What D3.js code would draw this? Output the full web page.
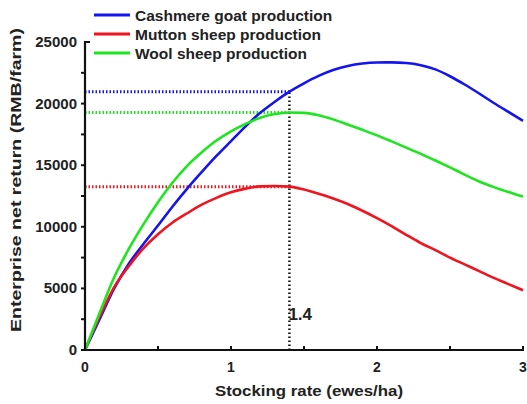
<!DOCTYPE html>
<html>
<head>
<meta charset="utf-8">
<script src="https://cdn.jsdelivr.net/npm/d3@7"></script>
<style>
  body { margin: 0; background: #fff; }
  text { font-family: "Liberation Sans", Arial, sans-serif; font-weight: bold; fill: #222; }
</style>
</head>
<body>
<div id="chart"></div>
<script>
// stocking rate (ewes/ha)
var rates = [0, 0.1, 0.2, 0.3, 0.4, 0.5, 0.6, 0.7, 0.8, 0.9, 1.0, 1.1, 1.2, 1.3, 1.4, 1.5,
  1.6, 1.7, 1.8, 1.9, 2.0, 2.1, 2.2, 2.3, 2.4, 2.5, 2.6, 2.7, 2.8, 2.9, 3.0];

// enterprise net return (RMB/farm)
var cashmere = [0, 2500, 5000, 7000, 8600, 10100, 11650, 13100, 14450, 15750, 16950, 18150,
  19250, 20150, 20970, 21650, 22250, 22720, 23060, 23260, 23340, 23350, 23300, 23120,
  22780, 22220, 21550, 20820, 20050, 19320, 18600];
var mutton = [0, 2700, 5100, 6800, 8250, 9400, 10350, 11100, 11800, 12350, 12800, 13100,
  13280, 13310, 13260, 13020, 12680, 12300, 11850, 11300, 10700, 10050, 9350, 8680,
  8100, 7500, 6950, 6400, 5850, 5350, 4850];
var wool = [0, 3000, 5900, 8200, 10200, 12000, 13600, 14950, 16050, 17000, 17750, 18350,
  18850, 19150, 19280, 19250, 19060, 18720, 18300, 17870, 17420, 16930, 16430, 15920,
  15380, 14820, 14240, 13680, 13220, 12820, 12450];

var seriesNames = ['Cashmere goat production', 'Mutton sheep production', 'Wool sheep production'];
var seriesColors = ['#1414f0', '#f0141e', '#1ee61e'];
var seriesValues = [cashmere, mutton, wool];

var optimumRate = 1.4;
var optimumValues = [20970, 13260, 19270];   // cashmere, mutton, wool at 1.4

var xTicks = [0, 1, 2, 3];
var xMinorTicks = [0.5, 1.5, 2.5];
var yTicks = [0, 5000, 10000, 15000, 20000, 25000];
var yMinorTicks = [2500, 7500, 12500, 17500, 22500];

var width = 527, height = 404;

var svg = d3.select('#chart')
  .append('svg')
  .attr('width', width)
  .attr('height', height);

var x = d3.scaleLinear().domain([0, 3]).range([85, 523]);
var y = d3.scaleLinear().domain([0, 25000]).range([350, 42]);

// reference dotted lines at the 1.4 stocking rate
optimumValues.forEach(function(v, i) {
  svg.append('line')
    .attr('x1', x(0)).attr('x2', x(optimumRate))
    .attr('y1', y(v)).attr('y2', y(v))
    .attr('stroke', seriesColors[i])
    .attr('stroke-width', 3)
    .attr('stroke-dasharray', '1.5,2');
});

svg.append('line')
  .attr('x1', x(optimumRate)).attr('x2', x(optimumRate))
  .attr('y1', y(0)).attr('y2', y(optimumValues[0]))
  .attr('stroke', '#111')
  .attr('stroke-width', 2.5)
  .attr('stroke-dasharray', '1.5,2.5');

svg.append('text')
  .attr('x', x(optimumRate) - 1)
  .attr('y', 320)
  .style('font-size', '17px')
  .text('1.4');

// curves
var line = d3.line()
  .x(function(d) { return x(d[0]); })
  .y(function(d) { return y(d[1]); })
  .curve(d3.curveMonotoneX);

seriesValues.forEach(function(vals, i) {
  svg.append('path')
    .datum(rates.map(function(r, j) { return [r, vals[j]]; }))
    .attr('fill', 'none')
    .attr('stroke', seriesColors[i])
    .attr('stroke-width', 2.6)
    .attr('d', line);
});

// axes
var axisG = svg.append('g');

axisG.append('line')
  .attr('x1', x(0)).attr('x2', x(0))
  .attr('y1', y(25000) - 1).attr('y2', y(0) + 1)
  .attr('stroke', '#111').attr('stroke-width', 2.2);

axisG.append('line')
  .attr('x1', x(0) - 1).attr('x2', x(3) + 1)
  .attr('y1', y(0)).attr('y2', y(0))
  .attr('stroke', '#111').attr('stroke-width', 2.2);

yTicks.concat(yMinorTicks).forEach(function(t) {
  var top = t === 25000;
  axisG.append('line')
    .attr('x1', x(0)).attr('x2', top ? x(0) + 5 : x(0) - 4)
    .attr('y1', y(t)).attr('y2', y(t))
    .attr('stroke', '#111').attr('stroke-width', 2);
});

xTicks.concat(xMinorTicks).forEach(function(t) {
  axisG.append('line')
    .attr('x1', x(t)).attr('x2', x(t))
    .attr('y1', y(0)).attr('y2', y(0) - 4)
    .attr('stroke', '#111').attr('stroke-width', 2);
});

yTicks.forEach(function(t) {
  axisG.append('text')
    .attr('x', x(0) - 8)
    .attr('y', y(t) + 5)
    .attr('text-anchor', 'end')
    .style('font-size', '15px')
    .text(t);
});

xTicks.forEach(function(t) {
  axisG.append('text')
    .attr('x', x(t))
    .attr('y', 372)
    .attr('text-anchor', 'middle')
    .style('font-size', '14px')
    .text(t);
});

// axis titles
svg.append('text')
  .attr('x', 309)
  .attr('y', 396)
  .attr('text-anchor', 'middle')
  .attr('textLength', 188)
  .attr('lengthAdjust', 'spacingAndGlyphs')
  .style('font-size', '15px')
  .text('Stocking rate (ewes/ha)');

svg.append('text')
  .attr('transform', 'translate(21,180) rotate(-90)')
  .attr('text-anchor', 'middle')
  .attr('textLength', 304)
  .attr('lengthAdjust', 'spacingAndGlyphs')
  .style('font-size', '15px')
  .text('Enterprise net return (RMB/farm)');

// legend
var legend = svg.append('g');
seriesNames.forEach(function(name, i) {
  var ly = 15 + i * 19;
  legend.append('line')
    .attr('x1', 94).attr('x2', 130)
    .attr('y1', ly).attr('y2', ly)
    .attr('stroke', seriesColors[i])
    .attr('stroke-width', 3);
  legend.append('text')
    .attr('x', 135)
    .attr('y', ly + 6)
    .style('font-size', '15.5px')
    .text(name);
});
</script>
</body>
</html>
